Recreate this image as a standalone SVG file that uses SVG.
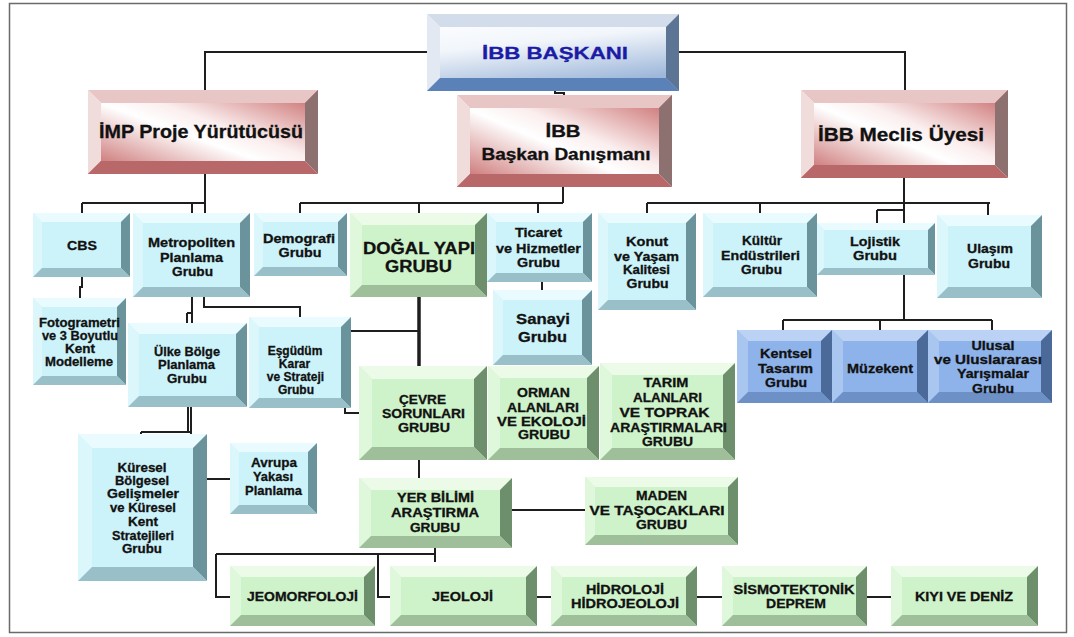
<svg xmlns="http://www.w3.org/2000/svg" width="1074" height="637" viewBox="0 0 1074 637">
<defs>
<linearGradient id="rg" x1="1" y1="0" x2="0" y2="1">
<stop offset="0" stop-color="#c45e5e"/>
<stop offset="0.42" stop-color="#fbeeee"/>
<stop offset="0.55" stop-color="#ffffff"/>
<stop offset="1" stop-color="#c25a5a"/>
</linearGradient>
<linearGradient id="bg" x1="0" y1="0" x2="0.35" y2="1">
<stop offset="0" stop-color="#ffffff"/>
<stop offset="0.45" stop-color="#f2f6fb"/>
<stop offset="1" stop-color="#9fb8da"/>
</linearGradient>
<style>
.cy .f{fill:#ccf3fa}.cy .t{fill:#e9fbfe}.cy .l{fill:#dcf7fb}.cy .r{fill:#6a939b}.cy .b{fill:#99c0c9}
.gr .f{fill:#cef3ca}.gr .t{fill:#ebfbe8}.gr .l{fill:#dff7db}.gr .r{fill:#6e8f6b}.gr .b{fill:#9fbf9b}
.bl .f{fill:#8eb3ea}.bl .t{fill:#bcd2f4}.bl .l{fill:#a9c6f0}.bl .r{fill:#4b6a9a}.bl .b{fill:#6d90c6}
.rd .f{fill:url(#rg)}.rd .t{fill:#e8c6c6}.rd .l{fill:#f1dcdc}.rd .r{fill:#8d7070}.rd .b{fill:#b86868}
.bh .f{fill:url(#bg)}.bh .t{fill:#d3dcea}.bh .l{fill:#e3e9f2}.bh .r{fill:#5d7595}.bh .b{fill:#5b82b8}
text{font-family:"Liberation Sans",Arial,sans-serif;font-weight:700;fill:#111;stroke:#111;stroke-width:0.3;text-anchor:middle}
.s{font-size:12.5px}.x{font-size:12px}.m{font-size:15px}.d{font-size:16px}.h{font-size:18px}
.bt{fill:#1b1ba6;stroke:#1b1ba6;font-size:17px}
.cn path{fill:none;stroke:#1e1e1e;stroke-width:2}
.cn .thick{stroke-width:3.5}
.frame{fill:#fff;stroke:#6a6a6a;stroke-width:1.5}
</style>
</defs>
<rect class="frame" x="9.5" y="3.5" width="1057" height="629"/>

<g class="cn" id="connectors">
<path d="M427,52 H205 V90"/>
<path d="M679,52 H905 V90"/>
<path d="M555,91 V93 H564 V95"/>
<path d="M205,174 V213"/>
<path d="M82,203 H205"/>
<path d="M82,203 V213"/>
<path d="M192,203 V213"/>
<path d="M82,277 V287 H80 V298"/>
<path d="M192,297 V323"/>
<path d="M187,313 H192 M187,313 V323"/>
<path d="M204,297 V307 H300 V317"/>
<path d="M563,187 V203"/>
<path d="M300,203 H563"/>
<path d="M300,203 V213"/>
<path d="M419,203 V213"/>
<path d="M538,203 V213"/>
<path d="M542,282 V290"/>
<path class="thick" d="M419,297 V366"/>
<path d="M351,331 H419"/>
<path d="M345,408 V413 H359"/>
<path d="M191,407 V434"/>
<path d="M188,407 V432"/>
<path d="M141,432 H191 M141,432 V434"/>
<path d="M207,479 H230"/>
<path d="M419,460 V478"/>
<path d="M512,510 H585"/>
<path d="M435,548 V562"/>
<path d="M216,554 H435"/>
<path d="M216,554 V597 H230"/>
<path d="M378,554 V597 H390"/>
<path d="M537,597 H551"/>
<path d="M697,597 H722"/>
<path d="M867,597 H891"/>
<path d="M904,178 V223"/>
<path d="M647,203 H990"/>
<path d="M647,203 V213"/>
<path d="M760,203 V213"/>
<path d="M877,210 H904"/>
<path d="M877,210 V223"/>
<path d="M988,203 V215"/>
<path d="M904,275 V320"/>
<path d="M783,320 H992"/>
<path d="M783,320 V330"/>
<path d="M880,320 V330"/>
<path d="M992,320 V330"/>
</g>

<g id="baskan" class="bh">
<rect class="f" x="427" y="14" width="252" height="77"/>
<polygon class="t" points="427,14 679,14 666,27 440,27"/>
<polygon class="l" points="427,14 440,27 440,78 427,91"/>
<polygon class="r" points="679,14 679,91 666,78 666,27"/>
<polygon class="b" points="427,91 440,78 666,78 679,91"/>
<text class="bt" x="555" y="59" textLength="146" lengthAdjust="spacingAndGlyphs">İBB BAŞKANI</text>
</g>

<g id="imp" class="rd">
<rect class="f" x="88" y="90" width="230" height="84"/>
<polygon class="t" points="88,90 318,90 305,103 101,103"/>
<polygon class="l" points="88,90 101,103 101,161 88,174"/>
<polygon class="r" points="318,90 318,174 305,161 305,103"/>
<polygon class="b" points="88,174 101,161 305,161 318,174"/>
<text class="h" x="201" y="138" textLength="204" lengthAdjust="spacingAndGlyphs">İMP Proje Yürütücüsü</text>
</g>

<g id="danisman" class="rd">
<rect class="f" x="457" y="95" width="215" height="92"/>
<polygon class="t" points="457,95 672,95 659,108 470,108"/>
<polygon class="l" points="457,95 470,108 470,174 457,187"/>
<polygon class="r" points="672,95 672,187 659,174 659,108"/>
<polygon class="b" points="457,187 470,174 659,174 672,187"/>
<text class="d" x="563" y="137" textLength="35" lengthAdjust="spacingAndGlyphs">İBB</text>
<text class="d" x="566" y="160" textLength="169" lengthAdjust="spacingAndGlyphs">Başkan Danışmanı</text>
</g>

<g id="meclis" class="rd">
<rect class="f" x="801" y="90" width="207" height="88"/>
<polygon class="t" points="801,90 1008,90 995,103 814,103"/>
<polygon class="l" points="801,90 814,103 814,165 801,178"/>
<polygon class="r" points="1008,90 1008,178 995,165 995,103"/>
<polygon class="b" points="801,178 814,165 995,165 1008,178"/>
<text class="h" x="901" y="141" textLength="166" lengthAdjust="spacingAndGlyphs">İBB Meclis Üyesi</text>
</g>

<g id="cbs" class="cy">
<rect class="f" x="33" y="213" width="97" height="64"/>
<polygon class="t" points="33,213 130,213 121,222 42,222"/>
<polygon class="l" points="33,213 42,222 42,268 33,277"/>
<polygon class="r" points="130,213 130,277 121,268 121,222"/>
<polygon class="b" points="33,277 42,268 121,268 130,277"/>
<text class="s" x="82" y="250" textLength="30" lengthAdjust="spacingAndGlyphs">CBS</text>
</g>

<g id="metropoliten" class="cy">
<rect class="f" x="133" y="213" width="117" height="84"/>
<polygon class="t" points="133,213 250,213 240,223 143,223"/>
<polygon class="l" points="133,213 143,223 143,287 133,297"/>
<polygon class="r" points="250,213 250,297 240,287 240,223"/>
<polygon class="b" points="133,297 143,287 240,287 250,297"/>
<text class="s" x="191.5" y="247" textLength="87" lengthAdjust="spacingAndGlyphs">Metropoliten</text>
<text class="s" x="191.5" y="262" textLength="63" lengthAdjust="spacingAndGlyphs">Planlama</text>
<text class="s" x="192.5" y="276" textLength="41" lengthAdjust="spacingAndGlyphs">Grubu</text>
</g>

<g id="demografi" class="cy">
<rect class="f" x="254" y="213" width="93" height="63"/>
<polygon class="t" points="254,213 347,213 338,222 263,222"/>
<polygon class="l" points="254,213 263,222 263,267 254,276"/>
<polygon class="r" points="347,213 347,276 338,267 338,222"/>
<polygon class="b" points="254,276 263,267 338,267 347,276"/>
<text class="s" x="299" y="243" textLength="72" lengthAdjust="spacingAndGlyphs">Demografi</text>
<text class="s" x="300" y="257" textLength="43" lengthAdjust="spacingAndGlyphs">Grubu</text>
</g>

<g id="ticaret" class="cy">
<rect class="f" x="487" y="213" width="105" height="69"/>
<polygon class="t" points="487,213 592,213 583,222 496,222"/>
<polygon class="l" points="487,213 496,222 496,273 487,282"/>
<polygon class="r" points="592,213 592,282 583,273 583,222"/>
<polygon class="b" points="487,282 496,273 583,273 592,282"/>
<text class="s" x="538.5" y="237" textLength="47" lengthAdjust="spacingAndGlyphs">Ticaret</text>
<text class="s" x="538.5" y="253" textLength="85" lengthAdjust="spacingAndGlyphs">ve Hizmetler</text>
<text class="s" x="538.5" y="267" textLength="43" lengthAdjust="spacingAndGlyphs">Grubu</text>
</g>

<g id="sanayi" class="cy">
<rect class="f" x="493" y="290" width="99" height="75"/>
<polygon class="t" points="493,290 592,290 582,300 503,300"/>
<polygon class="l" points="493,290 503,300 503,355 493,365"/>
<polygon class="r" points="592,290 592,365 582,355 582,300"/>
<polygon class="b" points="493,365 503,355 582,355 592,365"/>
<text class="m" x="543" y="324" textLength="54" lengthAdjust="spacingAndGlyphs">Sanayi</text>
<text class="m" x="542.5" y="342" textLength="49" lengthAdjust="spacingAndGlyphs">Grubu</text>
</g>

<g id="konut" class="cy">
<rect class="f" x="598" y="213" width="98" height="97"/>
<polygon class="t" points="598,213 696,213 686,223 608,223"/>
<polygon class="l" points="598,213 608,223 608,300 598,310"/>
<polygon class="r" points="696,213 696,310 686,300 686,223"/>
<polygon class="b" points="598,310 608,300 686,300 696,310"/>
<text class="s" x="647" y="246" textLength="42" lengthAdjust="spacingAndGlyphs">Konut</text>
<text class="s" x="646.5" y="261" textLength="65" lengthAdjust="spacingAndGlyphs">ve Yaşam</text>
<text class="s" x="646.5" y="274" textLength="47" lengthAdjust="spacingAndGlyphs">Kalitesi</text>
<text class="s" x="647.5" y="288" textLength="42" lengthAdjust="spacingAndGlyphs">Grubu</text>
</g>

<g id="kultur" class="cy">
<rect class="f" x="703" y="213" width="114" height="84"/>
<polygon class="t" points="703,213 817,213 807,223 713,223"/>
<polygon class="l" points="703,213 713,223 713,287 703,297"/>
<polygon class="r" points="817,213 817,297 807,287 807,223"/>
<polygon class="b" points="703,297 713,287 807,287 817,297"/>
<text class="s" x="762" y="245" textLength="40" lengthAdjust="spacingAndGlyphs">Kültür</text>
<text class="s" x="760.5" y="260" textLength="79" lengthAdjust="spacingAndGlyphs">Endüstrileri</text>
<text class="s" x="761.5" y="274" textLength="41" lengthAdjust="spacingAndGlyphs">Grubu</text>
</g>

<g id="lojistik" class="cy">
<rect class="f" x="817" y="223" width="118" height="52"/>
<polygon class="t" points="817,223 935,223 928,230 824,230"/>
<polygon class="l" points="817,223 824,230 824,268 817,275"/>
<polygon class="r" points="935,223 935,275 928,268 928,230"/>
<polygon class="b" points="817,275 824,268 928,268 935,275"/>
<text class="s" x="875" y="246" textLength="50" lengthAdjust="spacingAndGlyphs">Lojistik</text>
<text class="s" x="875" y="260" textLength="44" lengthAdjust="spacingAndGlyphs">Grubu</text>
</g>

<g id="ulasim" class="cy">
<rect class="f" x="937" y="215" width="105" height="83"/>
<polygon class="t" points="937,215 1042,215 1031,226 948,226"/>
<polygon class="l" points="937,215 948,226 948,287 937,298"/>
<polygon class="r" points="1042,215 1042,298 1031,287 1031,226"/>
<polygon class="b" points="937,298 948,287 1031,287 1042,298"/>
<text class="s" x="990" y="253" textLength="46" lengthAdjust="spacingAndGlyphs">Ulaşım</text>
<text class="s" x="989" y="268" textLength="42" lengthAdjust="spacingAndGlyphs">Grubu</text>
</g>

<g id="fotogrametri" class="cy">
<rect class="f" x="33" y="298" width="93" height="87"/>
<polygon class="t" points="33,298 126,298 117,307 42,307"/>
<polygon class="l" points="33,298 42,307 42,376 33,385"/>
<polygon class="r" points="126,298 126,385 117,376 117,307"/>
<polygon class="b" points="33,385 42,376 117,376 126,385"/>
<text class="s" x="79.5" y="327" textLength="81" lengthAdjust="spacingAndGlyphs">Fotogrametri</text>
<text class="s" x="80" y="340" textLength="76" lengthAdjust="spacingAndGlyphs">ve 3 Boyutlu</text>
<text class="s" x="80" y="353" textLength="30" lengthAdjust="spacingAndGlyphs">Kent</text>
<text class="s" x="79" y="366" textLength="68" lengthAdjust="spacingAndGlyphs">Modelleme</text>
</g>

<g id="ulke" class="cy">
<rect class="f" x="128" y="323" width="119" height="84"/>
<polygon class="t" points="128,323 247,323 236,334 139,334"/>
<polygon class="l" points="128,323 139,334 139,396 128,407"/>
<polygon class="r" points="247,323 247,407 236,396 236,334"/>
<polygon class="b" points="128,407 139,396 236,396 247,407"/>
<text class="s" x="187" y="356" textLength="66" lengthAdjust="spacingAndGlyphs">Ülke Bölge</text>
<text class="s" x="186.5" y="369" textLength="57" lengthAdjust="spacingAndGlyphs">Planlama</text>
<text class="s" x="187" y="383" textLength="40" lengthAdjust="spacingAndGlyphs">Grubu</text>
</g>

<g id="esgudum" class="cy">
<rect class="f" x="249" y="317" width="102" height="91"/>
<polygon class="t" points="249,317 351,317 341,327 259,327"/>
<polygon class="l" points="249,317 259,327 259,398 249,408"/>
<polygon class="r" points="351,317 351,408 341,398 341,327"/>
<polygon class="b" points="249,408 259,398 341,398 351,408"/>
<text class="x" x="295" y="355">Eşgüdüm</text>
<text class="x" x="294.5" y="368">Karar</text>
<text class="x" x="295.5" y="381">ve Strateji</text>
<text class="x" x="296" y="394">Grubu</text>
</g>

<g id="kuresel" class="cy">
<rect class="f" x="78" y="434" width="129" height="147"/>
<polygon class="t" points="78,434 207,434 193,448 92,448"/>
<polygon class="l" points="78,434 92,448 92,567 78,581"/>
<polygon class="r" points="207,434 207,581 193,567 193,448"/>
<polygon class="b" points="78,581 92,567 193,567 207,581"/>
<text class="s" x="142" y="472" textLength="49" lengthAdjust="spacingAndGlyphs">Küresel</text>
<text class="s" x="142" y="485" textLength="54" lengthAdjust="spacingAndGlyphs">Bölgesel</text>
<text class="s" x="143" y="498" textLength="72" lengthAdjust="spacingAndGlyphs">Gelişmeler</text>
<text class="s" x="143" y="512" textLength="66" lengthAdjust="spacingAndGlyphs">ve Küresel</text>
<text class="s" x="143" y="526" textLength="30" lengthAdjust="spacingAndGlyphs">Kent</text>
<text class="s" x="143" y="540" textLength="62" lengthAdjust="spacingAndGlyphs">Stratejileri</text>
<text class="s" x="142" y="553" textLength="40" lengthAdjust="spacingAndGlyphs">Grubu</text>
</g>

<g id="avrupa" class="cy">
<rect class="f" x="230" y="443" width="87" height="71"/>
<polygon class="t" points="230,443 317,443 308,452 239,452"/>
<polygon class="l" points="230,443 239,452 239,505 230,514"/>
<polygon class="r" points="317,443 317,514 308,505 308,452"/>
<polygon class="b" points="230,514 239,505 308,505 317,514"/>
<text class="s" x="274" y="467" textLength="46" lengthAdjust="spacingAndGlyphs">Avrupa</text>
<text class="s" x="273" y="481" textLength="40" lengthAdjust="spacingAndGlyphs">Yakası</text>
<text class="s" x="273.5" y="495" textLength="57" lengthAdjust="spacingAndGlyphs">Planlama</text>
</g>

<g id="dogal" class="gr">
<rect class="f" x="350" y="213" width="137" height="84"/>
<polygon class="t" points="350,213 487,213 475,225 362,225"/>
<polygon class="l" points="350,213 362,225 362,285 350,297"/>
<polygon class="r" points="487,213 487,297 475,285 475,225"/>
<polygon class="b" points="350,297 362,285 475,285 487,297"/>
<text class="d" x="419" y="254" textLength="112" lengthAdjust="spacingAndGlyphs">DOĞAL YAPI</text>
<text class="d" x="418.5" y="272" textLength="67" lengthAdjust="spacingAndGlyphs">GRUBU</text>
</g>

<g id="cevre" class="gr">
<rect class="f" x="359" y="366" width="128" height="94"/>
<polygon class="t" points="359,366 487,366 474,379 372,379"/>
<polygon class="l" points="359,366 372,379 372,447 359,460"/>
<polygon class="r" points="487,366 487,460 474,447 474,379"/>
<polygon class="b" points="359,460 372,447 474,447 487,460"/>
<text class="s" x="422.5" y="404" textLength="47" lengthAdjust="spacingAndGlyphs">ÇEVRE</text>
<text class="s" x="423.5" y="418" textLength="83" lengthAdjust="spacingAndGlyphs">SORUNLARI</text>
<text class="s" x="424" y="432" textLength="52" lengthAdjust="spacingAndGlyphs">GRUBU</text>
</g>

<g id="orman" class="gr">
<rect class="f" x="488" y="366" width="111" height="94"/>
<polygon class="t" points="488,366 599,366 587,378 500,378"/>
<polygon class="l" points="488,366 500,378 500,448 488,460"/>
<polygon class="r" points="599,366 599,460 587,448 587,378"/>
<polygon class="b" points="488,460 500,448 587,448 599,460"/>
<text class="s" x="543.5" y="397" textLength="53" lengthAdjust="spacingAndGlyphs">ORMAN</text>
<text class="s" x="543" y="412" textLength="72" lengthAdjust="spacingAndGlyphs">ALANLARI</text>
<text class="s" x="541.5" y="426" textLength="89" lengthAdjust="spacingAndGlyphs">VE EKOLOJİ</text>
<text class="s" x="544" y="439" textLength="52" lengthAdjust="spacingAndGlyphs">GRUBU</text>
</g>

<g id="tarim" class="gr">
<rect class="f" x="600" y="363" width="135" height="97"/>
<polygon class="t" points="600,363 735,363 723,375 612,375"/>
<polygon class="l" points="600,363 612,375 612,448 600,460"/>
<polygon class="r" points="735,363 735,460 723,448 723,375"/>
<polygon class="b" points="600,460 612,448 723,448 735,460"/>
<text class="s" x="666" y="387" textLength="45" lengthAdjust="spacingAndGlyphs">TARIM</text>
<text class="s" x="667.5" y="402" textLength="69" lengthAdjust="spacingAndGlyphs">ALANLARI</text>
<text class="s" x="664.5" y="417" textLength="90" lengthAdjust="spacingAndGlyphs">VE TOPRAK</text>
<text class="s" x="668.5" y="432" textLength="117" lengthAdjust="spacingAndGlyphs">ARAŞTIRMALARI</text>
<text class="s" x="667.5" y="446" textLength="51" lengthAdjust="spacingAndGlyphs">GRUBU</text>
</g>

<g id="yerbilimi" class="gr">
<rect class="f" x="359" y="478" width="153" height="70"/>
<polygon class="t" points="359,478 512,478 500,490 371,490"/>
<polygon class="l" points="359,478 371,490 371,536 359,548"/>
<polygon class="r" points="512,478 512,548 500,536 500,490"/>
<polygon class="b" points="359,548 371,536 500,536 512,548"/>
<text class="s" x="435.5" y="502" textLength="77" lengthAdjust="spacingAndGlyphs">YER BİLİMİ</text>
<text class="s" x="435" y="517" textLength="88" lengthAdjust="spacingAndGlyphs">ARAŞTIRMA</text>
<text class="s" x="435" y="532" textLength="50" lengthAdjust="spacingAndGlyphs">GRUBU</text>
</g>

<g id="maden" class="gr">
<rect class="f" x="585" y="477" width="153" height="68"/>
<polygon class="t" points="585,477 738,477 728,487 595,487"/>
<polygon class="l" points="585,477 595,487 595,535 585,545"/>
<polygon class="r" points="738,477 738,545 728,535 728,487"/>
<polygon class="b" points="585,545 595,535 728,535 738,545"/>
<text class="s" x="661.5" y="500" textLength="51" lengthAdjust="spacingAndGlyphs">MADEN</text>
<text class="s" x="657" y="515" textLength="135" lengthAdjust="spacingAndGlyphs">VE TAŞOCAKLARI</text>
<text class="s" x="661.5" y="529" textLength="51" lengthAdjust="spacingAndGlyphs">GRUBU</text>
</g>

<g id="jeomorfoloji" class="gr">
<rect class="f" x="230" y="566" width="145" height="60"/>
<polygon class="t" points="230,566 375,566 364,577 241,577"/>
<polygon class="l" points="230,566 241,577 241,615 230,626"/>
<polygon class="r" points="375,566 375,626 364,615 364,577"/>
<polygon class="b" points="230,626 241,615 364,615 375,626"/>
<text class="s" x="302.5" y="601" textLength="111" lengthAdjust="spacingAndGlyphs">JEOMORFOLOJİ</text>
</g>

<g id="jeoloji" class="gr">
<rect class="f" x="390" y="566" width="147" height="60"/>
<polygon class="t" points="390,566 537,566 526,577 401,577"/>
<polygon class="l" points="390,566 401,577 401,615 390,626"/>
<polygon class="r" points="537,566 537,626 526,615 526,577"/>
<polygon class="b" points="390,626 401,615 526,615 537,626"/>
<text class="s" x="462.5" y="601" textLength="61" lengthAdjust="spacingAndGlyphs">JEOLOJİ</text>
</g>

<g id="hidroloji" class="gr">
<rect class="f" x="551" y="566" width="146" height="60"/>
<polygon class="t" points="551,566 697,566 686,577 562,577"/>
<polygon class="l" points="551,566 562,577 562,615 551,626"/>
<polygon class="r" points="697,566 697,626 686,615 686,577"/>
<polygon class="b" points="551,626 562,615 686,615 697,626"/>
<text class="s" x="625" y="594" textLength="78" lengthAdjust="spacingAndGlyphs">HİDROLOJİ</text>
<text class="s" x="625" y="608" textLength="108" lengthAdjust="spacingAndGlyphs">HİDROJEOLOJİ</text>
</g>

<g id="sismotektonik" class="gr">
<rect class="f" x="722" y="566" width="145" height="60"/>
<polygon class="t" points="722,566 867,566 856,577 733,577"/>
<polygon class="l" points="722,566 733,577 733,615 722,626"/>
<polygon class="r" points="867,566 867,626 856,615 856,577"/>
<polygon class="b" points="722,626 733,615 856,615 867,626"/>
<text class="s" x="794" y="594" textLength="121" lengthAdjust="spacingAndGlyphs">SİSMOTEKTONİK</text>
<text class="s" x="796" y="608" textLength="60" lengthAdjust="spacingAndGlyphs">DEPREM</text>
</g>

<g id="kiyi" class="gr">
<rect class="f" x="891" y="566" width="147" height="60"/>
<polygon class="t" points="891,566 1038,566 1027,577 902,577"/>
<polygon class="l" points="891,566 902,577 902,615 891,626"/>
<polygon class="r" points="1038,566 1038,626 1027,615 1027,577"/>
<polygon class="b" points="891,626 902,615 1027,615 1038,626"/>
<text class="s" x="964" y="601" textLength="98" lengthAdjust="spacingAndGlyphs">KIYI VE DENİZ</text>
</g>

<g id="kentsel" class="bl">
<rect class="f" x="737" y="330" width="95" height="73"/>
<polygon class="t" points="737,330 832,330 821,341 748,341"/>
<polygon class="l" points="737,330 748,341 748,392 737,403"/>
<polygon class="r" points="832,330 832,403 821,392 821,341"/>
<polygon class="b" points="737,403 748,392 821,392 832,403"/>
<text class="s" x="786" y="358" textLength="52" lengthAdjust="spacingAndGlyphs">Kentsel</text>
<text class="s" x="785.5" y="373" textLength="55" lengthAdjust="spacingAndGlyphs">Tasarım</text>
<text class="s" x="786" y="387" textLength="42" lengthAdjust="spacingAndGlyphs">Grubu</text>
</g>

<g id="muzekent" class="bl">
<rect class="f" x="832" y="330" width="96" height="73"/>
<polygon class="t" points="832,330 928,330 917,341 843,341"/>
<polygon class="l" points="832,330 843,341 843,392 832,403"/>
<polygon class="r" points="928,330 928,403 917,392 917,341"/>
<polygon class="b" points="832,403 843,392 917,392 928,403"/>
<text class="s" x="880" y="373" textLength="66" lengthAdjust="spacingAndGlyphs">Müzekent</text>
</g>

<g id="ulusal" class="bl">
<rect class="f" x="928" y="330" width="124" height="73"/>
<polygon class="t" points="928,330 1052,330 1041,341 939,341"/>
<polygon class="l" points="928,330 939,341 939,392 928,403"/>
<polygon class="r" points="1052,330 1052,403 1041,392 1041,341"/>
<polygon class="b" points="928,403 939,392 1041,392 1052,403"/>
<text class="s" x="993" y="350" textLength="43" lengthAdjust="spacingAndGlyphs">Ulusal</text>
<text class="s" x="988" y="364" textLength="108" lengthAdjust="spacingAndGlyphs">ve Uluslararası</text>
<text class="s" x="993" y="378" textLength="72" lengthAdjust="spacingAndGlyphs">Yarışmalar</text>
<text class="s" x="993" y="393" textLength="42" lengthAdjust="spacingAndGlyphs">Grubu</text>
</g>
</svg>
